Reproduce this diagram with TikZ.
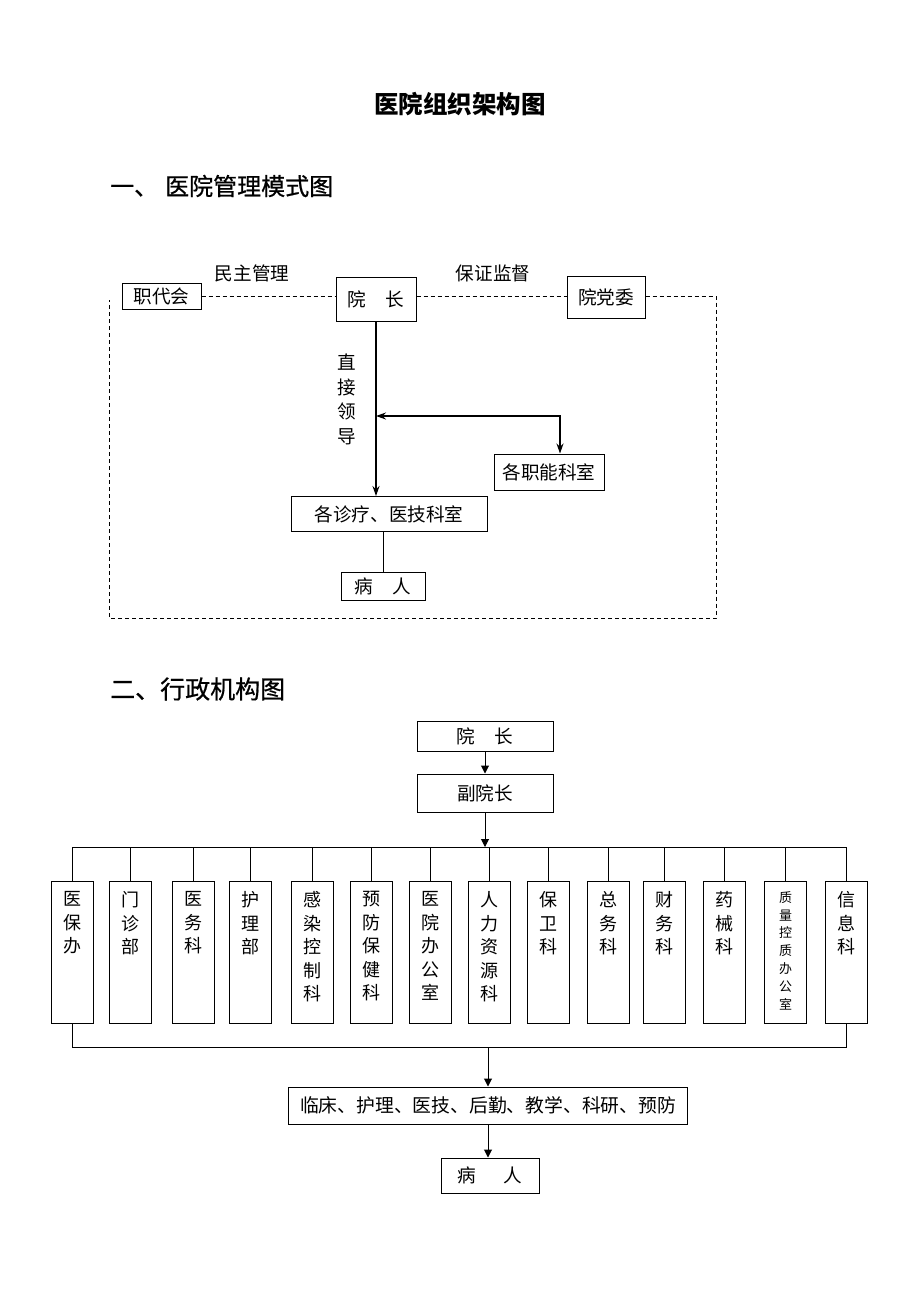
\documentclass[tikz,border=0pt]{standalone}
\usepackage{fontspec}
\setmainfont{Noto Sans CJK SC}
\newfontfamily\headfont{Noto Sans CJK SC}[FakeBold=0.7]
\usetikzlibrary{arrows.meta,positioning}

\begin{document}
\begin{tikzpicture}[x=1pt,y=-1pt,
  box/.style={draw,line width=1pt,inner sep=0pt,font=\fontsize{18.6}{20}\selectfont},
  col/.style={draw,line width=1pt,inner xsep=0pt,inner ysep=10pt,anchor=north,font=\fontsize{18}{23.5}\selectfont},
  lbl/.style={inner sep=0pt,font=\fontsize{18.6}{24.5}\selectfont},
  dline/.style={line width=1pt,dash pattern=on 4pt off 3pt},
  arr/.style={line width=1.2pt,-{Stealth[length=10pt,width=7pt]}},
  arrb/.style={line width=1.2pt,{Stealth[length=10pt,width=7pt]}-{Stealth[length=10pt,width=7pt]}},
  arrf/.style={line width=1pt,-{Triangle[length=8pt,width=8pt]}},
  ln/.style={line width=1pt}]
\useasboundingbox[fill=white] (0,0) rectangle (920,1302);

% titles
\node[inner sep=0pt,font=\bfseries\fontsize{24.5}{28}\selectfont] (title) at (460,104) {医院组织架构图};
\node[inner sep=0pt,anchor=west,font=\headfont\fontsize{24}{28}\selectfont] (h1) at (110,186) {一、\hspace{7pt}医院管理模式图};
\node[inner sep=0pt,anchor=west,font=\headfont\fontsize{25}{28}\selectfont] (h2) at (110,689) {二、行政机构图};

% part one
\node[box,minimum width=79,minimum height=26] (zdh) at (161.5,296) {职代会};
\node[box,minimum width=80,minimum height=44] (yz1) at (376,299.5) {院\hspace{20pt}长};
\node[box,minimum width=78,minimum height=42] (ydw) at (606,297) {院党委};
\node[lbl] (mzgl) at (252,273) {民主管理};
\node[lbl] (bzjd) at (493,273) {保证监督};
\node[lbl,align=center] (zjld) at (347,399.5) {直\\接\\领\\导};
\node[box,minimum width=110,minimum height=36] (znks) at (549,472) {各职能科室};
\node[box,minimum width=196,minimum height=35] (gzl) at (389,514) {各诊疗、医技科室};
\node[box,minimum width=84,minimum height=28] (br1) at (383,586) {病\hspace{19pt}人};

\coordinate (mid) at (376,416);
\coordinate (fne) at (716,296);
\coordinate (fse) at (716,618);
\coordinate (fsw) at (109,618);
\coordinate (fnw) at (109,300);

\draw[dline] (zdh.east) -- (zdh.east -| yz1.west);
\draw[dline] (zdh.east -| yz1.east) -- (zdh.east -| ydw.west);
\draw[dline] (zdh.east -| ydw.east) -- (fne) -- (fse) -- (fsw) -- (fnw);
\draw[arr] (yz1.south) -- (yz1.south |- gzl.north);
\draw[arrb] (mid) -| ([xshift=11pt]znks.north);
\draw[ln] (br1.north) -- (br1.north |- gzl.south);

% part two
\node[box,minimum width=136,minimum height=30] (yz2) at (485,736.5) {院\hspace{20pt}长};
\node[box,minimum width=136,minimum height=38] (fyz) at (485,793) {副院长};
\coordinate (bus) at (485,847);
\draw[arrf] (yz2) -- (fyz);
\draw[arrf] (fyz) -- (bus);

\foreach \x/\t [count=\i] in {72/{医\\保\\办},130.5/{门\\诊\\部},193/{医\\务\\科},250.5/{护\\理\\部},
    312/{感\\染\\控\\制\\科},371/{预\\防\\保\\健\\科},430.5/{医\\院\\办\\公\\室},489/{人\\力\\资\\源\\科},
    548/{保\\卫\\科},608/{总\\务\\科},664/{财\\务\\科},724/{药\\械\\科},
    785.5/{{\fontsize{13}{17.8}\selectfont 质\\量\\控\\质\\办\\公\\室\endgraf}},846/{信\\息\\科}}{
  \node[col] (d\i) at (\x,881) {\parbox[t][122pt][t]{42pt}{\centering\t}};
  \draw[ln] (d\i.north) -- (d\i.north |- bus);
}
\draw[ln] (d1.north |- bus) -- (d14.north |- bus);

\coordinate (bus2) at (488,1047);
\draw[ln] (d1.south) |- (bus2) -| (d14.south);
\node[box,minimum width=399,minimum height=37,font=\fontsize{18.8}{20}\selectfont] (lc) at (488,1105.5) {临床、护理、医技、后勤、教学、科研、预防};
\node[box,minimum width=98,minimum height=35] (br2) at (490,1175.5) {病\hspace{27pt}人};
\draw[arrf] (bus2) -- (bus2 |- lc.north);
\draw[arrf] (lc.south -| bus2) -- (bus2 |- br2.north);
\end{tikzpicture}
\end{document}
